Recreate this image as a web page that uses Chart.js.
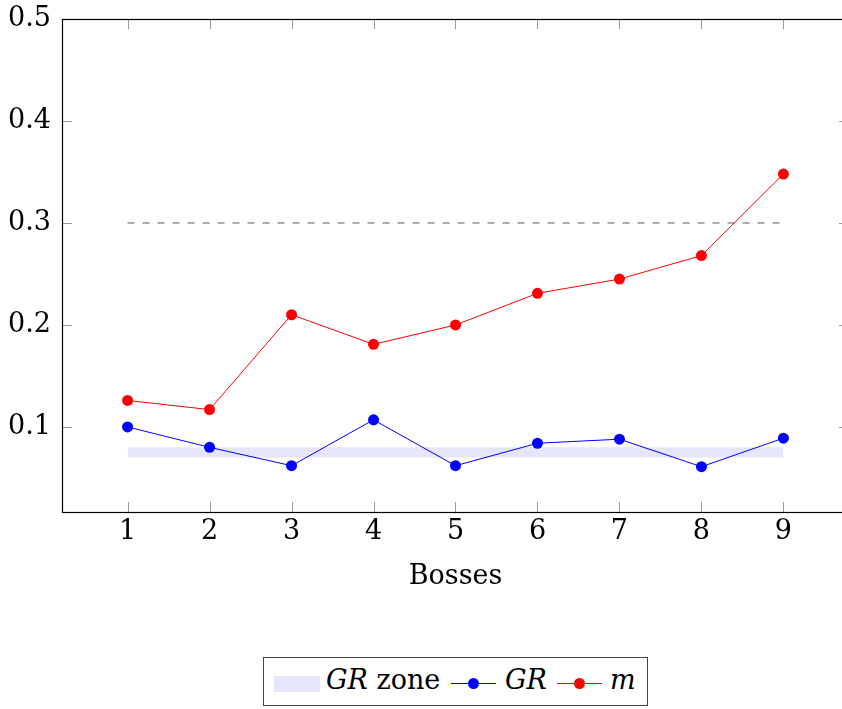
<!DOCTYPE html>
<html>
<head>
<meta charset="utf-8">
<script src="https://cdn.jsdelivr.net/npm/chart.js@4.4.0/dist/chart.umd.min.js"></script>
<style>
    body { margin: 0; width: 842px; height: 709px; overflow: hidden; background: #fff; position: relative; }
    #wrap { position: absolute; left: 0; top: 0; width: 870px; height: 593px; }
    #legend {
        position: absolute; left: 263px; top: 657px; width: 383px; height: 47px;
        border: 1px solid #444; box-sizing: content-box;
        font-family: "DejaVu Serif", serif; font-size: 27px; color: #000;
        white-space: nowrap;
    }
    #legend .txt { position: absolute; top: 6px; line-height: 32px; }
    #legend i { font-style: italic; }
    .zone { position: absolute; left: 10px; top: 18px; width: 46px; height: 16px; background: #e5e5fc; }
    .ln { position: absolute; top: 25px; width: 45px; height: 1px; }
    .ln span { position: absolute; left: 17px; top: -5px; width: 11px; height: 11px; border-radius: 50%; }
</style>
</head>
<body>
<div id="wrap"><canvas id="chart" width="870" height="593"></canvas></div>
<div id="legend">
    <span class="zone"></span>
    <span class="txt" style="left:62px"><i>GR</i> zone</span>
    <span class="ln" style="left:187px;background:#0000ff"><span style="background:#0000ff"></span></span>
    <span class="txt" style="left:241px"><i>GR</i></span>
    <span class="ln" style="left:293px;background:#ff0000"><span style="background:#ff0000"></span></span>
    <span class="txt" style="left:346px"><i>m</i></span>
</div>
<script>
// bosses on the x axis
var bosses = [1, 2, 3, 4, 5, 6, 7, 8, 9];
var grValues = [0.100, 0.080, 0.062, 0.107, 0.062, 0.084, 0.088, 0.061, 0.089];
var mValues = [0.126, 0.117, 0.210, 0.181, 0.200, 0.231, 0.245, 0.268, 0.348];
var zoneLow = 0.07;
var zoneHigh = 0.08;
var limitValue = 0.3;
var yTicks = [0.1, 0.2, 0.3, 0.4, 0.5];

var labelFont = { family: "'DejaVu Serif', serif", size: 27 };

function pairs(xs, ys) {
    return xs.map((x, i) => ({ x: x, y: ys[i] }));
}
var first = bosses[0];
var last = bosses[bosses.length - 1];

// inside ticks on all four sides plus the frame
var frameTicks = {
    id: 'frameTicks',
    afterDraw(chart) {
        var ctx = chart.ctx;
        var a = chart.chartArea;
        var xs = chart.scales.x, ys = chart.scales.y;
        ctx.save();
        ctx.strokeStyle = '#9a9a9a';
        ctx.lineWidth = 1;
        ctx.beginPath();
        bosses.forEach(v => {
            var px = Math.round(xs.getPixelForValue(v)) + 0.5;
            ctx.moveTo(px, a.bottom); ctx.lineTo(px, a.bottom - 10);
            ctx.moveTo(px, a.top); ctx.lineTo(px, a.top + 10);
        });
        yTicks.forEach(v => {
            var py = Math.round(ys.getPixelForValue(v)) + 0.5;
            ctx.moveTo(a.left, py); ctx.lineTo(a.left + 10, py);
            ctx.moveTo(a.right, py); ctx.lineTo(a.right - 10, py);
        });
        ctx.stroke();
        ctx.strokeStyle = '#000';
        ctx.lineWidth = 1.2;
        ctx.strokeRect(Math.round(a.left) + 0.5, Math.round(a.top) + 0.5, a.right - a.left, a.bottom - a.top);
        ctx.restore();
    }
};

var ctx = document.getElementById('chart').getContext('2d');
var chart = new Chart(ctx, {
    type: 'line',
    data: {
        datasets: [{
            label: 'GR zone low',
            data: pairs([first, last], [zoneLow, zoneLow]),
            borderWidth: 0,
            pointRadius: 0,
            fill: false,
            order: 10,
        }, {
            label: 'GR zone',
            data: pairs([first, last], [zoneHigh, zoneHigh]),
            borderWidth: 0,
            pointRadius: 0,
            backgroundColor: '#e5e5fc',
            fill: '-1',
            order: 9,
        }, {
            label: 'limit',
            data: pairs([first, last], [limitValue, limitValue]),
            borderColor: '#5a5a5a',
            borderWidth: 1,
            borderDash: [7, 8],
            pointRadius: 0,
            fill: false,
            order: 8,
        }, {
            label: 'GR',
            data: pairs(bosses, grValues),
            borderColor: '#0000ff',
            backgroundColor: '#0000ff',
            borderWidth: 1,
            pointRadius: 5.5,
            pointBorderWidth: 0,
            fill: false,
            order: 2,
        }, {
            label: 'm',
            data: pairs(bosses, mValues),
            borderColor: '#ff0000',
            backgroundColor: '#ff0000',
            borderWidth: 1,
            pointRadius: 5.5,
            pointBorderWidth: 0,
            fill: false,
            order: 1,
        }],
    },
    options: {
        responsive: false,
        animation: false,
        layout: { padding: { top: 19, left: 0, right: 21, bottom: 0 } },
        plugins: { legend: { display: false }, tooltip: { enabled: false } },
        scales: {
            x: {
                type: 'linear',
                min: 0.2,
                max: 9.8,
                afterBuildTicks: scale => { scale.ticks = bosses.map(v => ({ value: v })); },
                afterFit: scale => { scale.height = 81; scale.paddingLeft = 0; scale.paddingRight = 0; },
                grid: { display: false, drawTicks: false },
                border: { display: false },
                ticks: { padding: 4, color: '#000', font: labelFont },
                title: { display: true, text: 'Bosses', color: '#000', padding: 0, font: labelFont },
            },
            y: {
                min: 0.0166,
                max: 0.5,
                afterBuildTicks: scale => { scale.ticks = yTicks.map(v => ({ value: v })); },
                afterFit: scale => { scale.width = 62; scale.paddingTop = 0; scale.paddingBottom = 0; },
                grid: { display: false, drawTicks: false },
                border: { display: false },
                ticks: { padding: 11, color: '#000', font: labelFont, callback: v => v.toFixed(1) },
            },
        },
    },
    plugins: [frameTicks],
});
</script>
</body>
</html>
